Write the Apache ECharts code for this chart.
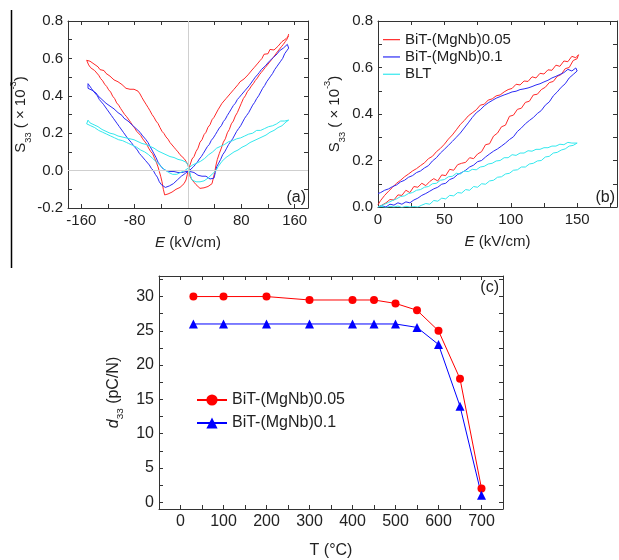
<!DOCTYPE html>
<html>
<head>
<meta charset="utf-8">
<script src="https://cdn.jsdelivr.net/npm/echarts@6/dist/echarts.min.js"></script>
<style>
  html, body { margin: 0; padding: 0; background: #fff; }
  #chart { width: 619px; height: 560px; }
</style>
</head>
<body>
<div id="chart"></div>
<script>
// ---- panel (a): bipolar strain loops, [E (kV/cm), S33 (x10^-3)] ----
var redLoopA = [
  [151,.72],[147,.705],[144,.712],[141,.69],[138,.688],[135,.665],[132,.672],[129,.645],[126,.642],[123,.648],[120,.625],[117,.615],[114,.622],[111,.60],[108,.588],[105,.575],[102,.568],[99,.55],[96,.538],[93,.53],[90,.512],[87,.508],[84,.49],[81,.482],[78,.475],[75,.46],[72,.452],[69,.435],[66,.432],[63,.41],[60,.408],[57,.385],[54,.378],[51,.36],[48,.352],[45,.325],[42,.318],[39,.285],[36,.272],[33,.245],[30,.232],[27,.205],[24,.192],[21,.165],[18,.152],[15,.12],[12,.102],[9,.075],[6,.062],[3,.03],[1,.01],
  [-1,-.02],[-3,-.05],[-6,-.07],[-9,-.075],[-12,-.09],[-15,-.095],[-18,-.10],[-21,-.098],[-24,-.115],[-27,-.112],[-30,-.125],[-33,-.135],[-35,-.13],[-37,-.10],[-39,-.06],[-41,-.03],[-43,-.005],[-45,.02],[-47,.04],[-50,.065],[-53,.09],[-56,.102],[-59,.12],[-62,.142],[-65,.152],[-68,.17],[-71,.188],[-74,.19],[-77,.21],[-80,.228],[-83,.24],[-86,.258],[-89,.265],[-92,.288],[-95,.30],[-98,.31],[-101,.332],[-104,.35],[-107,.362],[-110,.385],[-113,.398],[-116,.42],[-119,.432],[-122,.45],[-125,.462],[-128,.48],[-131,.492],[-134,.51],[-137,.518],[-140,.535],[-143,.542],[-146,.55],[-149,.565],[-152,.575],
  [-152,.59],[-150,.60],[-147,.585],[-144,.592],[-141,.57],[-138,.562],[-135,.555],[-132,.54],[-129,.53],[-126,.535],[-123,.52],[-120,.51],[-117,.505],[-114,.50],[-111,.485],[-108,.49],[-105,.475],[-102,.465],[-99,.46],[-96,.45],[-93,.44],[-90,.442],[-87,.435],[-84,.44],[-81,.435],[-78,.43],[-75,.425],[-72,.41],[-69,.39],[-66,.372],[-63,.355],[-60,.338],[-57,.32],[-54,.30],[-51,.285],[-48,.265],[-45,.252],[-42,.23],[-39,.21],[-36,.198],[-33,.18],[-30,.168],[-27,.15],[-24,.142],[-21,.125],[-18,.112],[-15,.10],[-12,.085],[-9,.078],[-6,.065],[-3,.05],[0,.03],[2,.0],
  [3,-.03],[6,-.05],[9,-.062],[12,-.075],[15,-.08],[18,-.095],[21,-.085],[24,-.092],[27,-.095],[30,-.085],[33,-.09],[36,-.07],[38,-.04],[40,-.01],[42,.03],[44,.06],[47,.092],[50,.12],[53,.152],[56,.17],[59,.202],[62,.22],[65,.25],[68,.265],[71,.292],[74,.31],[77,.335],[80,.36],[83,.385],[86,.40],[89,.422],[92,.435],[95,.452],[98,.465],[101,.482],[104,.495],[107,.512],[110,.525],[113,.535],[116,.552],[119,.565],[122,.575],[125,.592],[128,.605],[131,.615],[134,.635],[137,.645],[140,.662],[143,.675],[146,.69],[149,.705],[151,.73]
];
var blueLoopA = [
  [151,.655],[149,.675],[146,.67],[143,.655],[140,.648],[137,.64],[134,.625],[131,.622],[128,.605],[125,.60],[122,.585],[119,.582],[116,.56],[113,.552],[110,.54],[107,.525],[104,.512],[101,.50],[98,.485],[95,.478],[92,.455],[89,.448],[86,.43],[83,.422],[80,.405],[77,.392],[74,.38],[71,.36],[68,.348],[65,.33],[62,.312],[59,.295],[56,.275],[53,.262],[50,.24],[47,.228],[44,.21],[41,.192],[38,.175],[35,.162],[32,.14],[29,.128],[26,.11],[23,.092],[20,.075],[17,.062],[14,.045],[11,.032],[8,.02],[5,.012],[2,.0],
  [-1,-.005],[-4,-.015],[-7,-.02],[-10,-.03],[-13,-.035],[-16,-.05],[-19,-.06],[-22,-.07],[-25,-.075],[-28,-.082],[-31,-.085],[-34,-.09],[-37,-.095],[-40,-.075],[-43,-.06],[-46,-.035],[-49,-.02],[-52,.0],[-55,.012],[-58,.03],[-61,.04],[-64,.055],[-67,.065],[-70,.08],[-73,.092],[-76,.11],[-79,.12],[-82,.135],[-85,.15],[-88,.16],[-91,.175],[-94,.19],[-97,.205],[-100,.215],[-103,.235],[-106,.25],[-109,.265],[-112,.28],[-115,.295],[-118,.305],[-121,.325],[-124,.335],[-127,.355],[-130,.365],[-133,.38],[-136,.40],[-139,.41],[-142,.425],[-145,.44],[-148,.445],[-150,.465],[-152,.47],
  [-152,.455],[-150,.44],[-147,.435],[-144,.43],[-141,.42],[-138,.415],[-135,.40],[-132,.39],[-129,.38],[-126,.372],[-123,.36],[-120,.355],[-117,.345],[-114,.335],[-111,.33],[-108,.32],[-105,.31],[-102,.305],[-99,.295],[-96,.28],[-93,.275],[-90,.265],[-87,.255],[-84,.245],[-81,.235],[-78,.225],[-75,.215],[-72,.205],[-69,.19],[-66,.18],[-63,.165],[-60,.15],[-57,.13],[-54,.11],[-51,.09],[-48,.07],[-45,.045],[-42,.03],[-39,.015],[-36,.005],[-33,.0],[-30,.005],[-27,-.005],[-24,.0],[-21,-.005],[-18,.0],[-15,-.01],[-12,-.005],[-9,-.01],[-6,.0],[-3,-.005],[0,.0],
  [3,-.005],[6,-.015],[9,-.01],[12,-.02],[15,-.025],[18,-.02],[21,-.03],[24,-.035],[27,-.03],[30,-.04],[33,-.045],[36,-.05],[39,-.04],[41,-.01],[43,.02],[46,.04],[49,.06],[52,.085],[55,.10],[58,.12],[61,.14],[64,.155],[67,.17],[70,.19],[73,.21],[76,.225],[79,.24],[82,.26],[85,.28],[88,.295],[91,.31],[94,.33],[97,.35],[100,.365],[103,.385],[106,.40],[109,.42],[112,.44],[115,.455],[118,.475],[121,.49],[124,.505],[127,.52],[130,.54],[133,.555],[136,.57],[139,.585],[142,.60],[145,.625],[148,.64],[151,.655]
];
var cyanLoopA = [
  [151,.27],[148,.275],[145,.265],[142,.26],[139,.265],[136,.255],[133,.25],[130,.25],[127,.24],[124,.245],[121,.235],[118,.23],[115,.225],[112,.225],[109,.215],[106,.21],[103,.215],[100,.205],[97,.20],[94,.195],[91,.195],[88,.185],[85,.185],[82,.18],[79,.175],[76,.17],[73,.17],[70,.165],[67,.16],[64,.155],[61,.155],[58,.15],[55,.14],[52,.14],[49,.13],[46,.125],[43,.12],[40,.11],[37,.10],[34,.09],[31,.085],[28,.075],[25,.065],[22,.06],[19,.05],[16,.045],[13,.04],[10,.035],[7,.03],[4,.02],[1,.015],
  [-2,.005],[-5,.0],[-8,-.005],[-11,-.01],[-14,-.015],[-17,-.02],[-20,-.015],[-23,-.02],[-26,-.015],[-29,-.01],[-32,-.005],[-35,.005],[-38,.015],[-41,.025],[-44,.035],[-47,.045],[-50,.055],[-53,.065],[-56,.075],[-59,.085],[-62,.09],[-65,.10],[-68,.105],[-71,.11],[-74,.115],[-77,.125],[-80,.13],[-83,.135],[-86,.14],[-89,.145],[-92,.15],[-95,.155],[-98,.16],[-101,.165],[-104,.165],[-107,.17],[-110,.175],[-113,.18],[-116,.185],[-119,.19],[-122,.195],[-125,.20],[-128,.205],[-131,.21],[-134,.215],[-137,.225],[-140,.23],[-143,.235],[-146,.24],[-149,.245],[-152,.25],
  [-152,.26],[-150,.27],[-147,.255],[-144,.25],[-141,.245],[-138,.24],[-135,.235],[-132,.225],[-129,.22],[-126,.215],[-123,.21],[-120,.205],[-117,.20],[-114,.20],[-111,.195],[-108,.19],[-105,.185],[-102,.185],[-99,.18],[-96,.175],[-93,.175],[-90,.17],[-87,.17],[-84,.165],[-81,.165],[-78,.16],[-75,.155],[-72,.15],[-69,.145],[-66,.14],[-63,.14],[-60,.135],[-57,.13],[-54,.125],[-51,.12],[-48,.11],[-45,.105],[-42,.10],[-39,.095],[-36,.09],[-33,.085],[-30,.08],[-27,.075],[-24,.07],[-21,.07],[-18,.065],[-15,.06],[-12,.06],[-9,.055],[-6,.05],[-3,.045],[0,.03],
  [2,.0],[4,-.03],[6,-.05],[9,-.055],[12,-.06],[15,-.055],[18,-.06],[21,-.05],[24,-.055],[27,-.045],[30,-.04],[33,-.035],[36,-.02],[39,-.01],[42,.0],[45,.02],[48,.035],[51,.05],[54,.06],[57,.07],[60,.08],[63,.085],[66,.09],[69,.10],[72,.105],[75,.11],[78,.12],[81,.125],[84,.13],[87,.135],[90,.14],[93,.15],[96,.155],[99,.16],[102,.165],[105,.17],[108,.175],[111,.18],[114,.185],[117,.19],[120,.20],[123,.205],[126,.21],[129,.215],[132,.225],[135,.23],[138,.235],[141,.24],[144,.25],[147,.26],[150,.265],[151,.27]
];

// ---- panel (b): unipolar strain loops, [E (kV/cm), S33 (x10^-3)] ----
var redLoopB = [
  [0,0],[3,.008],[6,.018],[9,.032],[12,.03],[15,.052],[18,.05],[21,.072],[24,.062],[27,.088],[30,.085],[33,.102],[36,.092],[39,.11],[42,.122],[45,.112],[48,.138],[51,.135],[54,.162],[57,.158],[60,.182],[63,.188],[66,.192],[69,.212],[72,.208],[75,.228],[78,.238],[81,.268],[84,.272],[87,.305],[90,.318],[93,.345],[96,.352],[99,.39],[102,.395],[105,.42],[108,.425],[111,.45],[114,.455],[117,.482],[120,.485],[123,.505],[126,.515],[129,.535],[132,.54],[135,.562],[138,.57],[141,.595],[144,.6],[147,.63],[150,.638],[151,.655],
  [149,.642],[146,.648],[143,.625],[140,.628],[137,.605],[134,.61],[131,.588],[128,.59],[125,.572],[122,.575],[119,.555],[116,.56],[113,.54],[110,.542],[107,.525],[104,.528],[101,.51],[98,.505],[95,.495],[92,.482],[89,.478],[86,.465],[83,.46],[80,.442],[77,.438],[74,.418],[71,.405],[68,.392],[65,.372],[62,.355],[59,.332],[56,.31],[53,.292],[50,.27],[47,.252],[44,.238],[41,.218],[38,.208],[35,.19],[32,.178],[29,.165],[26,.155],[23,.142],[20,.13],[17,.115],[14,.102],[11,.085],[8,.068],[5,.05],[2,.028],[0,.01]
];
var blueLoopB = [
  [0,0],[3,.005],[6,0],[9,.012],[12,.008],[15,.018],[18,.012],[21,.022],[24,.018],[27,.03],[30,.038],[33,.05],[36,.058],[39,.068],[42,.078],[45,.085],[48,.098],[51,.102],[54,.118],[57,.125],[60,.14],[63,.148],[66,.158],[69,.172],[72,.18],[75,.195],[78,.2],[81,.215],[84,.228],[87,.24],[90,.25],[93,.262],[96,.275],[99,.29],[102,.302],[105,.325],[108,.34],[111,.358],[114,.372],[117,.385],[120,.402],[123,.415],[126,.438],[129,.452],[132,.478],[135,.495],[138,.515],[141,.53],[144,.555],[147,.57],[150,.585],[151,.592],
  [149,.598],[146,.585],[143,.592],[140,.578],[137,.57],[134,.562],[131,.555],[128,.545],[125,.538],[122,.53],[119,.525],[116,.518],[113,.512],[110,.508],[107,.505],[104,.498],[101,.495],[98,.488],[95,.482],[92,.475],[89,.468],[86,.458],[83,.448],[80,.435],[77,.418],[74,.405],[71,.385],[68,.362],[65,.34],[62,.318],[59,.3],[56,.282],[53,.265],[50,.248],[47,.232],[44,.212],[41,.198],[38,.178],[35,.168],[32,.155],[29,.148],[26,.135],[23,.128],[20,.115],[17,.108],[14,.095],[11,.088],[8,.078],[5,.072],[2,.062],[0,.058]
];
var cyanLoopB = [
  [0,0],[3,.002],[6,-.003],[9,.003],[12,0],[15,.004],[18,-.002],[21,.003],[24,0],[27,.002],[30,0],[33,.008],[36,.015],[39,.012],[42,.028],[45,.025],[48,.038],[51,.035],[54,.05],[57,.048],[60,.062],[63,.06],[66,.075],[69,.072],[72,.088],[75,.085],[78,.1],[81,.098],[84,.112],[87,.115],[90,.128],[93,.13],[96,.142],[99,.145],[102,.158],[105,.16],[108,.172],[111,.172],[114,.185],[117,.188],[120,.198],[123,.2],[126,.215],[129,.218],[132,.232],[135,.235],[138,.245],[141,.25],[144,.262],[147,.265],[150,.275],[151,.28],
  [149,.282],[146,.275],[143,.278],[140,.268],[137,.27],[134,.262],[131,.262],[128,.255],[125,.255],[122,.248],[119,.248],[116,.24],[113,.242],[110,.232],[107,.232],[104,.222],[101,.225],[98,.212],[95,.212],[92,.2],[89,.198],[86,.188],[83,.185],[80,.175],[77,.172],[74,.16],[71,.162],[68,.152],[65,.155],[62,.142],[59,.145],[56,.132],[53,.13],[50,.118],[47,.115],[44,.102],[41,.1],[38,.088],[35,.085],[32,.075],[29,.072],[26,.062],[23,.058],[20,.048],[17,.045],[14,.035],[11,.028],[8,.02],[5,.012],[2,.005],[0,0]
];

// ---- panel (c): d33 vs annealing temperature ----
var tempC = [30, 100, 200, 300, 400, 450, 500, 550, 600, 650, 700];
var d33Mg005 = [30, 30, 30, 29.5, 29.5, 29.5, 29, 28, 25, 18, 2];
var d33Mg01 = [26, 26, 26, 26, 26, 26, 26, 25.5, 23, 14, 1];

var names = ['BiT-(MgNb)0.05', 'BiT-(MgNb)0.1', 'BLT'];

// tick positions and labels
var ticksAX = [-160, -120, -80, -40, 0, 40, 80, 120, 160];
var labelsAX = [-160, -80, 0, 80, 160];
var ticksSY = [-0.2, -0.1, 0, 0.1, 0.2, 0.3, 0.4, 0.5, 0.6, 0.7, 0.8];
var labelsAY = [-0.2, 0, 0.2, 0.4, 0.6, 0.8];
var ticksBX = [0, 25, 50, 75, 100, 125, 150, 175];
var labelsBX = [0, 50, 100, 150];
var labelsBY = [0, 0.2, 0.4, 0.6, 0.8];
var ticksCX = [0, 50, 100, 150, 200, 250, 300, 350, 400, 450, 500, 550, 600, 650, 700];
var labelsCX = [0, 100, 200, 300, 400, 500, 600, 700];
var ticksCY = [0, 2.5, 5, 7.5, 10, 12.5, 15, 17.5, 20, 22.5, 25, 27.5, 30, 32.5];
var labelsCY = [0, 5, 10, 15, 20, 25, 30];

var FONT = 'Liberation Sans, Arial, sans-serif';
var axisColor = '#333';
var red = '#ff2a2a', blue = '#2b2bf5', cyan = '#33e8ee';

function pairs(xs, ys) {
  return xs.map(function (x, i) { return [x, ys[i]]; });
}

function xAx(grid, min, max, ticks, labels, fs, pos, name, gap) {
  return {
    type: 'value', gridIndex: grid, min: min, max: max, position: pos,
    axisLine: { onZero: false, lineStyle: { color: axisColor } },
    axisTick: { inside: true, length: 4, customValues: ticks, lineStyle: { color: axisColor } },
    axisLabel: labels ? { customValues: labels, fontSize: fs, color: '#222', fontFamily: FONT, margin: 5 } : { show: false },
    splitLine: { show: false },
    name: name || '', nameLocation: 'middle', nameGap: gap || 0,
    nameTextStyle: { fontSize: fs, color: '#222', fontFamily: FONT,
      rich: { i: { fontStyle: 'italic', fontSize: fs, fontFamily: FONT, color: '#222' },
              t: { fontSize: fs, fontFamily: FONT, color: '#222' } } }
  };
}
function yAx(grid, min, max, ticks, labels, fs, pos, name, gap, fmt) {
  var rich = {
    t: { fontSize: fs, fontFamily: FONT, color: '#222', lineHeight: 24 },
    i: { fontSize: fs, fontFamily: FONT, color: '#222', fontStyle: 'italic', lineHeight: 24 },
    sub: { fontSize: fs * 0.62, fontFamily: FONT, color: '#222', lineHeight: 24, verticalAlign: 'bottom' },
    sup: { fontSize: fs * 0.62, fontFamily: FONT, color: '#222', lineHeight: 24, verticalAlign: 'top' }
  };
  return {
    type: 'value', gridIndex: grid, min: min, max: max, position: pos,
    axisLine: { onZero: false, lineStyle: { color: axisColor } },
    axisTick: { inside: true, length: 4, customValues: ticks, lineStyle: { color: axisColor } },
    axisLabel: labels ? { customValues: labels, fontSize: fs, color: '#222', fontFamily: FONT, margin: 5, formatter: fmt } : { show: false },
    splitLine: { show: false },
    name: name || '', nameLocation: 'middle', nameGap: gap || 0, nameRotate: 90,
    nameTextStyle: { fontSize: fs, color: '#222', fontFamily: FONT, rich: rich }
  };
}
var oneDec = function (v) { return v.toFixed(1); };
var sName = '{t|S}{sub|33}{t| ( × 10}{sup|-3}{t|)}';
var eName = '{i|E}{t| (kV/cm)}';

function loopSeries(name, data, color, xi, yi) {
  return {
    name: name, type: 'line', xAxisIndex: xi, yAxisIndex: yi, data: data,
    symbol: 'none', lineStyle: { color: color, width: 1 }, itemStyle: { color: color }
  };
}

var series = [
  loopSeries(names[0], redLoopA, red, 0, 0),
  loopSeries(names[1], blueLoopA, blue, 0, 0),
  loopSeries(names[2], cyanLoopA, cyan, 0, 0),
  loopSeries(names[0], redLoopB, red, 2, 2),
  loopSeries(names[1], blueLoopB, blue, 2, 2),
  loopSeries(names[2], cyanLoopB, cyan, 2, 2),
  {
    name: 'c:' + names[0], type: 'line', xAxisIndex: 4, yAxisIndex: 4,
    data: pairs(tempC, d33Mg005), symbol: 'circle', symbolSize: 8,
    lineStyle: { color: '#ff0000', width: 1 }, itemStyle: { color: '#ff0000' }
  },
  {
    name: 'c:' + names[1], type: 'line', xAxisIndex: 4, yAxisIndex: 4,
    data: pairs(tempC, d33Mg01), symbol: 'triangle', symbolSize: 9,
    lineStyle: { color: '#0000ff', width: 1 }, itemStyle: { color: '#0000ff' }
  }
];
// zero reference lines in panel (a)
series[0].markLine = {
  silent: true, symbol: 'none', label: { show: false },
  lineStyle: { color: '#cfcfcf', width: 1, type: 'solid' },
  data: [{ xAxis: 0 }, { yAxis: 0 }]
};

var option = {
  animation: false,
  backgroundColor: '#fff',
  grid: [
    { left: 68, top: 21, width: 240, height: 187 },
    { left: 378, top: 21, width: 239, height: 186 },
    { left: 159, top: 276, width: 344, height: 233 }
  ],
  xAxis: [
    xAx(0, -180, 180, ticksAX, labelsAX, 15, 'bottom', eName, 27),
    xAx(0, -180, 180, ticksAX, null, 15, 'top'),
    xAx(1, 0, 180, ticksBX, labelsBX, 15, 'bottom', eName, 27),
    xAx(1, 0, 180, ticksBX, null, 15, 'top'),
    xAx(2, -50, 750, ticksCX, labelsCX, 16, 'bottom', 'T (°C)', 34),
    xAx(2, -50, 750, ticksCX, null, 16, 'top')
  ],
  yAxis: [
    yAx(0, -0.2, 0.8, ticksSY, labelsAY, 15, 'left', sName, 29, oneDec),
    yAx(0, -0.2, 0.8, ticksSY, null, 15, 'right'),
    yAx(1, 0, 0.8, ticksSY.slice(2), labelsBY, 15, 'left', sName, 31, oneDec),
    yAx(1, 0, 0.8, ticksSY.slice(2), null, 15, 'right'),
    yAx(2, -1, 33, ticksCY, labelsCY, 16, 'left', '{i|d}{sub|33}{t| (pC/N)}', 30),
    yAx(2, -1, 33, ticksCY, null, 16, 'right')
  ],
  legend: [
    {
      data: names, orient: 'vertical', left: 383, top: 31, padding: 0,
      icon: 'rect', itemWidth: 17, itemHeight: 1.2, itemGap: 0,
      textStyle: { fontSize: 15, color: '#222', fontFamily: FONT, lineHeight: 17.3 }
    },
    {
      data: ['c:' + names[0], 'c:' + names[1]], orient: 'vertical', left: 196, top: 392, padding: 0,
      itemWidth: 30, itemHeight: 14, itemGap: 7,
      formatter: function (n) { return n.replace('c:', ''); },
      textStyle: { fontSize: 16, color: '#222', fontFamily: FONT }
    }
  ],
  graphic: [
    { type: 'line', shape: { x1: 11.5, y1: 10, x2: 11.5, y2: 268 }, style: { stroke: '#000', lineWidth: 1.5 } },
    { type: 'text', x: 306, y: 198, style: { text: '(a)', fontSize: 16, fontFamily: FONT, fill: '#222', textAlign: 'right', textVerticalAlign: 'middle' } },
    { type: 'text', x: 615, y: 198, style: { text: '(b)', fontSize: 16, fontFamily: FONT, fill: '#222', textAlign: 'right', textVerticalAlign: 'middle' } },
    { type: 'text', x: 499, y: 288, style: { text: '(c)', fontSize: 16, fontFamily: FONT, fill: '#222', textAlign: 'right', textVerticalAlign: 'middle' } }
  ],
  series: series
};

var chart = echarts.init(document.getElementById('chart'));
chart.setOption(option);
</script>
</body>
</html>
